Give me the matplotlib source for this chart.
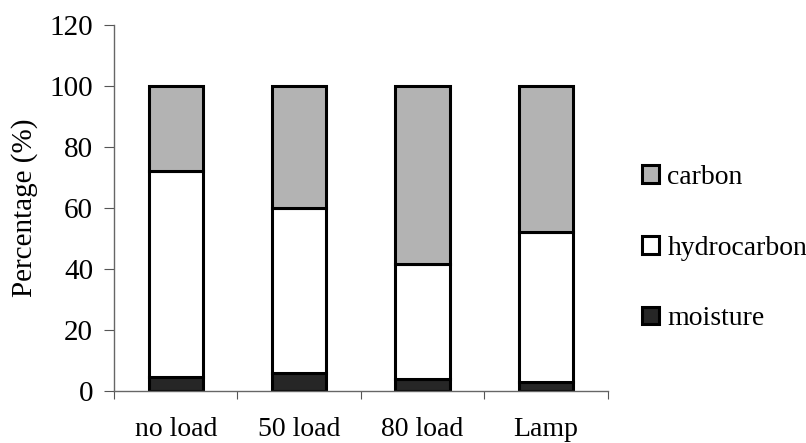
import matplotlib
matplotlib.use("Agg")
import matplotlib.pyplot as plt
import numpy as np

CATEGORIES = ["no load", "50 load", "80 load", "Lamp"]
MOISTURE = [4.5, 6, 4, 3]
HYDROCARBON = [67.5, 54, 37.5, 49]
CARBON = [28, 40, 58.5, 48]

plt.rcParams["font.family"] = ["Liberation Serif", "DejaVu Serif"]

fig = plt.figure(figsize=(8.06, 4.43), dpi=100)
ax = fig.add_axes([0.1414, 0.1174, 0.6126, 0.8262])

x = np.arange(len(CATEGORIES))
w = 0.44
edge = dict(edgecolor="black", linewidth=2.2)
b1 = ax.bar(x, MOISTURE, w, color="#262626", label="moisture", **edge)
b2 = ax.bar(x, HYDROCARBON, w, bottom=MOISTURE, color="white", label="hydrocarbon", **edge)
bottom2 = np.array(MOISTURE) + np.array(HYDROCARBON)
b3 = ax.bar(x, CARBON, w, bottom=bottom2, color="#b3b3b3", label="carbon", **edge)

ax.set_xlim(-0.5, len(CATEGORIES) - 0.5)
ax.set_ylim(0, 120)
ax.set_yticks(np.arange(0, 121, 20))
ax.set_xticks(np.arange(-0.5, len(CATEGORIES), 1.0))
ax.set_xticklabels([])
ax.set_xticks(x, minor=True)
ax.set_xticklabels(CATEGORIES, minor=True)
ax.tick_params(axis="x", which="minor", length=0, pad=19, labelsize=20)
ax.tick_params(axis="x", which="major", length=6, direction="out", color="#555555")
ax.tick_params(axis="y", length=7, direction="out", pad=8, labelsize=21, color="#555555")

for s in ["top", "right"]:
    ax.spines[s].set_visible(False)
for s in ["left", "bottom"]:
    ax.spines[s].set_color("#666666")
    ax.spines[s].set_linewidth(1.0)

ax.set_ylabel("Percentage (%)", fontsize=21, labelpad=8)

fig.legend([b3, b2, b1], ["carbon", "hydrocarbon", "moisture"],
           loc="center left", bbox_to_anchor=(0.766, 0.44), frameon=False,
           fontsize=20, labelspacing=1.65, handlelength=0.6, handleheight=0.6,
           handletextpad=0.3)

fig.savefig("out.png", dpi=100)
